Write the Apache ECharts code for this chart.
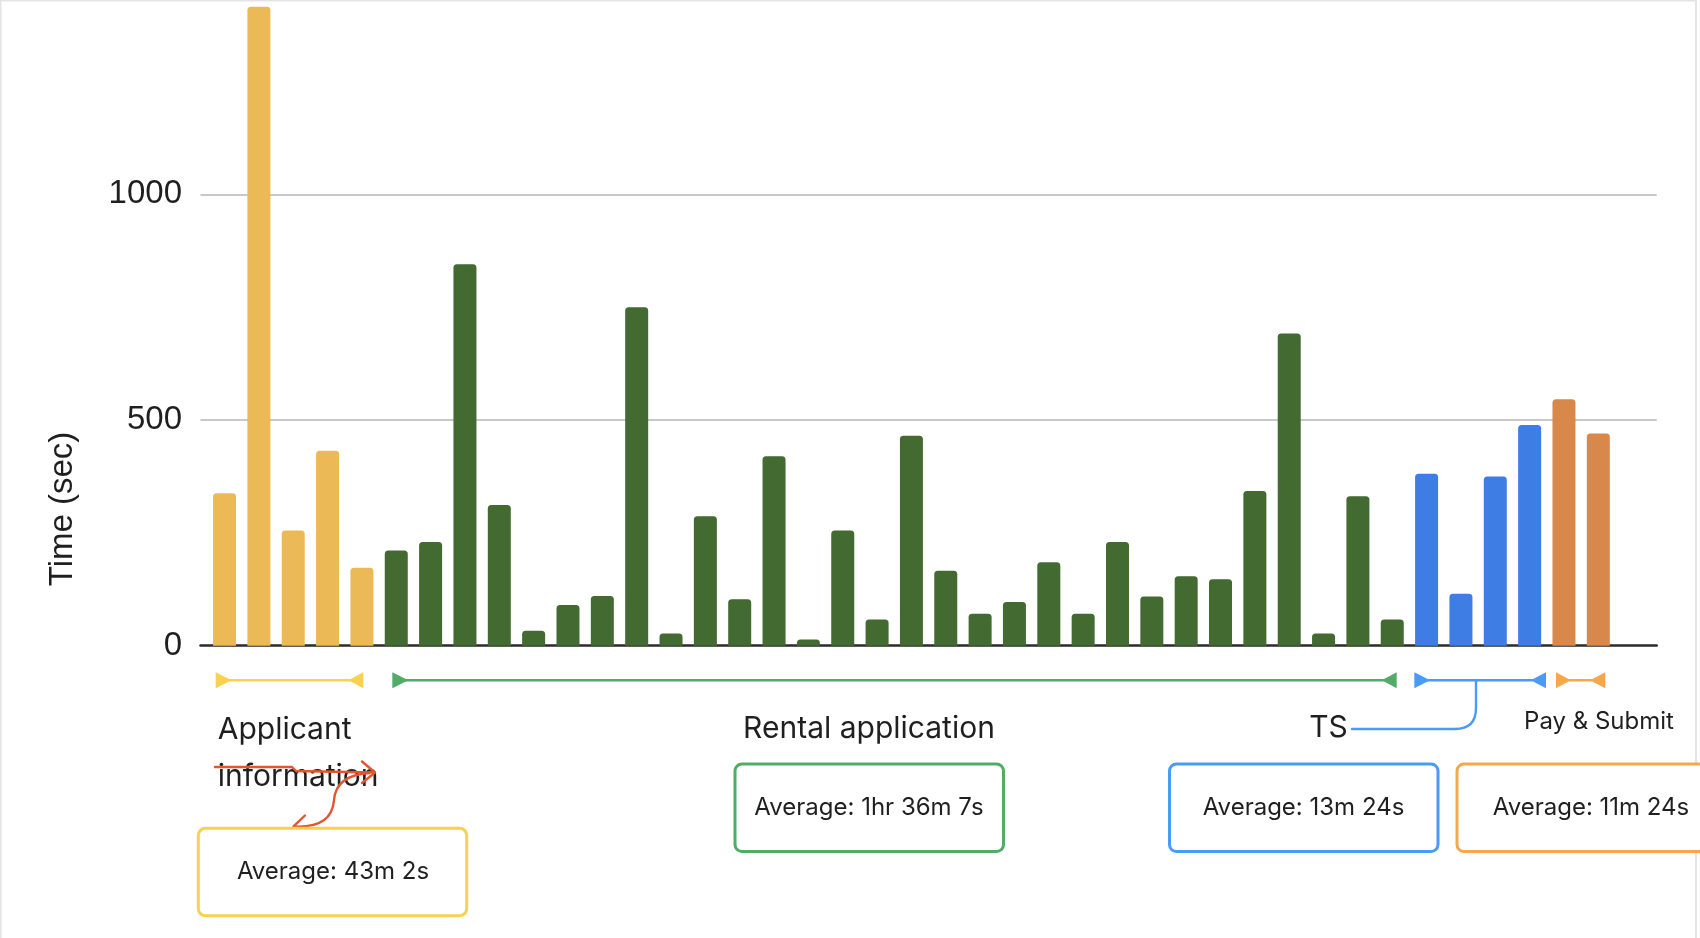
<!DOCTYPE html>
<html>
<head>
<meta charset="utf-8">
<script src="https://cdn.jsdelivr.net/npm/echarts@6/dist/echarts.min.js"></script>
<style>
  html, body { margin: 0; padding: 0; background: #ffffff; }
  #chart { width: 1700px; height: 938px; }
</style>
</head>
<body>
<div id="chart"></div>
<script>
// ---- data (seconds spent on each step) ----
const applicantInfo = [338, 1416, 255, 432, 173];
const rentalApplication = [211, 230, 845, 312, 33, 90, 110, 750, 27, 287,
                           103, 420, 14, 255, 58, 465, 166, 71, 97, 185,
                           71, 230, 109, 154, 147, 343, 692, 27, 331, 58];
const ts = [381, 115, 375, 489];
const paySubmit = [546, 470];
const yTicks = [0, 500, 1000];
const groupNames = ['Applicant information', 'Rental application', 'TS', 'Pay & Submit'];
const groupAverages = ['Average: 43m 2s', 'Average: 1hr 36m 7s', 'Average: 13m 24s', 'Average: 11m 24s'];
const yAxisTitle = 'Time (sec)';

// ---- styles ----
const barColors = ['#EBB956', '#426A31', '#3E7DE3', '#D9884B'];
const noteColors = ['#F9D050', '#52AB66', '#4A9BF5', '#F5A74A'];
const redNote = '#E2552F';
const annoFont = 'Inter, "Noto Sans", sans-serif';

const groups = [applicantInfo, rentalApplication, ts, paySubmit];
const barData = [];
let idx = 0;
groups.forEach((arr, g) => {
  arr.forEach(v => {
    barData.push({ value: [idx, v], itemStyle: { color: barColors[g] } });
    idx++;
  });
});

const chart = echarts.init(document.getElementById('chart'), null, { renderer: 'canvas' });

function tri(points, color) {
  return { type: 'polygon', shape: { points: points }, style: { fill: color }, silent: true };
}
function line(points, color, w) {
  return { type: 'polyline', shape: { points: points }, style: { stroke: color, lineWidth: w, fill: null, lineCap: 'round', lineJoin: 'round' }, silent: true };
}
function txt(x, y, s, size, align) {
  return { type: 'text', x: x, y: y, style: { text: s, font: size + 'px ' + annoFont, fill: '#1f1f1f', align: align || 'center', verticalAlign: 'middle' }, silent: true };
}
function box(x, y, w, h, color) {
  return { type: 'rect', shape: { x: x, y: y, width: w, height: h, r: 7 }, style: { fill: '#fff', stroke: color, lineWidth: 3 }, silent: true };
}

const yb = 680.3; // bracket row
const graphics = [
  // frame
  { type: 'rect', z: -10, shape: { x: 0.5, y: 0.5, width: 1695.5, height: 960 }, style: { fill: null, stroke: '#E4E4E4', lineWidth: 2 }, silent: true },
  // y axis title
  { type: 'text', x: 63, y: 509, rotation: Math.PI / 2,
    style: { text: yAxisTitle, font: '33px "Liberation Sans", Arial, sans-serif', fill: '#1f1f1f', align: 'center', verticalAlign: 'middle' }, silent: true },

  // yellow bracket
  line([[230, yb], [350, yb]], noteColors[0], 2.6),
  tri([[215.7, yb - 8], [231.7, yb], [215.7, yb + 8]], noteColors[0]),
  tri([[363.3, yb - 8], [348.3, yb], [363.3, yb + 8]], noteColors[0]),
  // green bracket
  line([[406, yb], [1383, yb]], noteColors[1], 2.6),
  tri([[392.3, yb - 8], [408.3, yb], [392.3, yb + 8]], noteColors[1]),
  tri([[1396.7, yb - 8], [1381.7, yb], [1396.7, yb + 8]], noteColors[1]),
  // blue bracket
  line([[1428, yb], [1532, yb]], noteColors[2], 2.6),
  tri([[1414.3, yb - 8], [1430, yb], [1414.3, yb + 8]], noteColors[2]),
  tri([[1546, yb - 8], [1530.7, yb], [1546, yb + 8]], noteColors[2]),
  // orange bracket
  line([[1569, yb], [1591, yb]], noteColors[3], 2.6),
  tri([[1556, yb - 8], [1570.7, yb], [1556, yb + 8]], noteColors[3]),
  tri([[1605.3, yb - 8], [1590, yb], [1605.3, yb + 8]], noteColors[3]),
  // TS connector
  line([[1476, yb], [1476, 708]], noteColors[2], 2.4),
  { type: 'bezierCurve', shape: { x1: 1476, y1: 708, cpx1: 1476, cpy1: 729, x2: 1455, y2: 729 }, style: { stroke: noteColors[2], lineWidth: 2.4, fill: null }, silent: true },
  line([[1455, 729], [1352, 729]], noteColors[2], 2.4),

  // group labels
  txt(217.7, 729.5, 'Applicant', 30, 'left'),
  txt(217.7, 776.5, 'information', 30, 'left'),
  txt(869, 729, groupNames[1], 30),
  txt(1328.5, 728, groupNames[2], 30),
  txt(1599, 722, groupNames[3], 24),

  // red hand-drawn annotation
  line([[215, 767], [292, 767], [296, 771], [374, 772.5]], redNote, 2.4),
  line([[362, 761.5], [375, 772.5], [362, 783]], redNote, 2.4),
  { type: 'bezierCurve', shape: { x1: 370, y1: 773, cpx1: 336, cpy1: 775, x2: 334, y2: 800 }, style: { stroke: redNote, lineWidth: 2.4, fill: null }, silent: true },
  { type: 'bezierCurve', shape: { x1: 334, y1: 800, cpx1: 332, cpy1: 828, x2: 295, y2: 826.5 }, style: { stroke: redNote, lineWidth: 2.4, fill: null }, silent: true },
  line([[305, 815.5], [293.5, 826.3], [304.5, 837]], redNote, 2.4),

  // average boxes
  box(198.3, 828.3, 268.4, 87.4, noteColors[0]),
  txt(333, 872, groupAverages[0], 24),
  box(735, 764, 268.5, 87.5, noteColors[1]),
  txt(869, 808, groupAverages[1], 24),
  box(1169.5, 764, 268.5, 87.5, noteColors[2]),
  txt(1303.5, 808, groupAverages[2], 24),
  box(1457, 764, 268.5, 87.5, noteColors[3]),
  txt(1591, 808, groupAverages[3], 24)
];

const option = {
  backgroundColor: '#ffffff',
  animation: false,
  grid: { left: 200.5, right: 43.3, top: 0.34, bottom: 292.3 },
  xAxis: {
    type: 'value', min: -0.7, max: 41.7,
    axisLine: { show: true, onZero: true, lineStyle: { color: '#2b2b2b', width: 2.5 } },
    axisTick: { show: false }, axisLabel: { show: false }, splitLine: { show: false }
  },
  yAxis: {
    type: 'value', min: 0, max: 1430, interval: 500,
    axisLine: { show: false }, axisTick: { show: false },
    axisLabel: {
      margin: 18.5, color: '#1f1f1f',
      fontFamily: '"Liberation Sans", Arial, sans-serif', fontSize: 33,
      formatter: v => (yTicks.indexOf(v) >= 0 ? String(v) : '')
    },
    splitLine: { show: false }
  },
  series: [{
    type: 'bar',
    barWidth: 23,
    z: 2,
    itemStyle: { borderRadius: [3.5, 3.5, 0, 0] },
    data: barData,
    markLine: {
      silent: true,
      symbol: 'none',
      z: 1,
      label: { show: false },
      lineStyle: { color: '#C8C8C8', width: 2, type: 'solid' },
      data: yTicks.filter(v => v > 0).map(v => ({ yAxis: v }))
    }
  }],
  graphic: graphics
};
chart.setOption(option);
</script>
</body>
</html>
